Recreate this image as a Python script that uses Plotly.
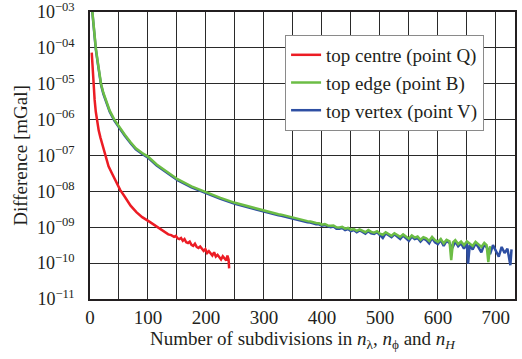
import plotly.graph_objects as go

# ---------------- data (exponents of 10) ----------------
red_n = [3, 4, 5, 6, 8, 10, 12, 15, 18, 22, 26, 32, 38, 45, 52, 60, 70, 80, 90, 103, 115, 126, 135, 140,
         142, 145, 148, 151, 154, 157, 160, 163, 166, 169, 172, 175, 178, 181, 184, 187, 190, 193, 196, 199,
         202, 205, 208, 211, 214, 217, 220, 223, 226, 229, 232, 235, 237, 239, 240]
red_exp = [-4.13, -4.45, -4.8, -5.05, -5.45, -5.78, -6.02, -6.3, -6.5, -6.75, -6.95, -7.3, -7.5, -7.75, -7.96,
           -8.15, -8.4, -8.58, -8.72, -8.85, -8.98, -9.1, -9.2, -9.22,
           -9.25, -9.27, -9.24, -9.31, -9.33, -9.30, -9.38, -9.33, -9.42, -9.44, -9.40, -9.49, -9.52, -9.46,
           -9.55, -9.58, -9.54, -9.62, -9.66, -9.61, -9.72, -9.67, -9.75, -9.79, -9.70, -9.82, -9.77, -9.85,
           -9.90, -9.81, -9.88, -9.93, -9.79, -9.90, -10.15]

green_n = [3, 4, 5, 7, 10, 13, 16, 19, 23, 28, 34, 42, 50, 60, 70, 79, 90, 100, 115, 130, 151, 175, 200, 225,
           250, 275, 300,
           305, 310, 315, 320, 325, 330, 335, 340, 345, 350, 355, 360, 365, 370, 375, 380, 385, 390, 395, 400,
           405, 410, 415, 420, 425, 430, 435, 440, 445, 450, 455, 460, 465, 470, 475, 480, 485, 490, 495, 500,
           505, 510, 515, 520, 525, 530, 535, 540, 545, 550, 555, 560, 565, 570, 575, 580, 585, 590, 595, 600,
           605, 610, 615, 620, 623, 626, 630, 635, 640, 645, 650, 655, 660, 665, 670, 675, 680, 684, 687, 690]
green_exp = [-2.8, -3.0, -3.25, -3.65, -4.0, -4.35, -4.7, -5.0, -5.25, -5.5, -5.75, -6.0, -6.2, -6.42, -6.63,
             -6.80, -6.93, -7.03, -7.25, -7.42, -7.66, -7.86, -8.03, -8.18, -8.32, -8.43, -8.54,
             -8.56, -8.58, -8.60, -8.61, -8.64, -8.65, -8.67, -8.71, -8.72, -8.74, -8.76, -8.79, -8.79, -8.82,
             -8.83, -8.84, -8.87, -8.88, -8.89, -8.93, -8.91, -8.95, -8.96, -8.95, -9.00, -9.01, -8.99, -9.04,
             -9.02, -9.07, -9.05, -9.10, -9.06, -9.09, -9.14, -9.08, -9.13, -9.15, -9.11, -9.18, -9.21, -9.14,
             -9.19, -9.24, -9.17, -9.22, -9.27, -9.20, -9.25, -9.32, -9.23, -9.29, -9.26, -9.35, -9.28, -9.31,
             -9.38, -9.27, -9.36, -9.41, -9.33, -9.45, -9.35, -9.39, -9.92, -9.42, -9.36, -9.47, -9.40, -9.50,
             -9.39, -9.46, -9.52, -9.41, -9.49, -9.55, -9.44, -9.50, -9.97, -9.53]

blue_n = [3, 4, 5, 7, 10, 13, 16, 19, 23, 28, 34, 42, 50, 60, 70, 79, 90, 100, 115, 130, 151, 175, 200, 225,
          250, 275, 300,
          305, 310, 315, 320, 325, 330, 335, 340, 345, 350, 355, 360, 365, 370, 375, 380, 385, 390, 395, 400,
          405, 410, 415, 420, 425, 430, 435, 440, 445, 450, 455, 460, 465, 470, 475, 480, 485, 490, 495, 500,
          505, 510, 515, 520, 525, 530, 535, 540, 545, 550, 555, 560, 565, 570, 575, 580, 585, 590, 595, 600,
          605, 610, 615, 620, 625, 630, 635, 640, 645, 650, 652, 655, 660, 665, 670, 675, 680, 685, 690, 695,
          700, 705, 710, 715, 720, 725, 727]
blue_exp = [-2.83, -3.03, -3.28, -3.68, -4.03, -4.38, -4.73, -5.03, -5.28, -5.53, -5.78, -6.03, -6.23, -6.45,
            -6.66, -6.83, -6.96, -7.06, -7.28, -7.45, -7.69, -7.89, -8.06, -8.21, -8.35, -8.46, -8.57,
            -8.59, -8.61, -8.63, -8.64, -8.67, -8.68, -8.70, -8.74, -8.75, -8.77, -8.79, -8.82, -8.82, -8.85,
            -8.86, -8.87, -8.90, -8.92, -8.92, -8.96, -8.94, -8.98, -9.00, -8.98, -9.04, -9.04, -9.02, -9.08,
            -9.05, -9.11, -9.08, -9.14, -9.09, -9.13, -9.18, -9.11, -9.17, -9.19, -9.14, -9.22, -9.30, -9.17,
            -9.23, -9.28, -9.20, -9.26, -9.33, -9.23, -9.30, -9.38, -9.26, -9.33, -9.30, -9.40, -9.31, -9.36,
            -9.45, -9.30, -9.42, -9.47, -9.36, -9.52, -9.38, -9.44, -9.58, -9.40, -9.53, -9.45, -9.60, -9.43,
            -10.02, -9.50, -9.62, -9.45, -9.56, -9.70, -9.48, -9.58, -9.75, -9.50, -9.66, -9.82, -9.55, -9.72,
            -9.60, -10.06, -9.62]

series_names = ["top centre (point Q)", "top edge (point B)", "top vertex (point V)"]
y_tick_exps = [-11, -10, -9, -8, -7, -6, -5, -4, -3]
x_tick_vals = [0, 100, 200, 300, 400, 500, 600, 700]

# ---------------- figure ----------------
FONT = "Liberation Serif"
RED, GREEN, BLUE = "#ec1c24", "#6cbd45", "#2e4fa3"
GRID = "#2a2a2a"


def pw(exps):
    return [10 ** e for e in exps]


fig = go.Figure()
fig.add_trace(go.Scatter(x=red_n, y=pw(red_exp), mode="lines", name=series_names[0],
                         line=dict(color=RED, width=2.5), legendrank=1))
fig.add_trace(go.Scatter(x=blue_n, y=pw(blue_exp), mode="lines", name=series_names[2],
                         line=dict(color=BLUE, width=2.5), legendrank=3))
fig.add_trace(go.Scatter(x=green_n, y=pw(green_exp), mode="lines", name=series_names[1],
                         line=dict(color=GREEN, width=2.5), legendrank=2))

ytext = ["10<sup>\u2212%02d</sup>" % (-e) for e in y_tick_exps]

fig.update_layout(
    width=522, height=359,
    margin=dict(l=90, r=7, t=12, b=60),
    paper_bgcolor="white", plot_bgcolor="white",
    font=dict(family=FONT, size=19, color="#231f20"),
    showlegend=True,
    legend=dict(x=0.459, y=0.92, xanchor="left", yanchor="top",
                bgcolor="white", bordercolor="#8a8a8a", borderwidth=1,
                font=dict(family=FONT, size=19), tracegroupgap=0,
                itemwidth=30),
    xaxis=dict(range=[0, 733], tickvals=x_tick_vals, ticktext=[str(v) for v in x_tick_vals],
               showgrid=True, gridcolor=GRID, gridwidth=1,
               minor=dict(dtick=50, showgrid=True, gridcolor=GRID, gridwidth=1),
               showline=True, linecolor="#231f20", linewidth=1.5, mirror=True,
               ticks="", zeroline=False, automargin=False, ticklabeloverflow="allow",
               tickfont=dict(size=19),
               title=dict(text="Number of subdivisions in <i>n</i><sub>\u03bb</sub>, <i>n</i><sub>\u03d5</sub> and <i>n</i><sub><i>H</i></sub>",
                          standoff=2, font=dict(size=19))),
    yaxis=dict(type="log", range=[-11.002, -2.998], tickvals=[10 ** e for e in y_tick_exps], ticktext=ytext,
               showgrid=True, gridcolor=GRID, gridwidth=1,
               showline=True, linecolor="#231f20", linewidth=1.5, mirror=True,
               ticks="", zeroline=False, automargin=False, ticklabeloverflow="allow",
               tickfont=dict(size=18), ticklabelstandoff=10,
               title=dict(text="Difference [mGal]", standoff=4, font=dict(size=19))),
)

fig.write_html("out.html", config={"displayModeBar": False},
               post_script="document.body.style.margin='0';document.body.style.padding='0';")
